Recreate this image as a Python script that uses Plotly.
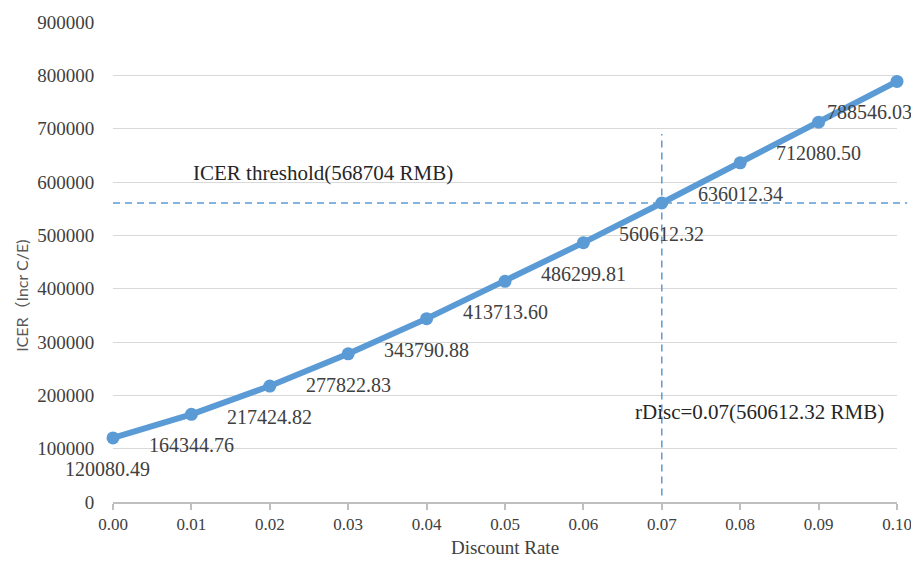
import plotly.graph_objects as go

discount_rate = [0.00, 0.01, 0.02, 0.03, 0.04, 0.05, 0.06, 0.07, 0.08, 0.09, 0.10]
icer = [120080.49, 164344.76, 217424.82, 277822.83, 343790.88, 413713.60,
        486299.81, 560612.32, 636012.34, 712080.50, 788546.03]
x_ticks = [0.00, 0.01, 0.02, 0.03, 0.04, 0.05, 0.06, 0.07, 0.08, 0.09, 0.10]
y_ticks = [0, 100000, 200000, 300000, 400000, 500000, 600000, 700000, 800000, 900000]
threshold_text = "ICER threshold(568704 RMB)"
rdisc_text = "rDisc=0.07(560612.32 RMB)"
rdisc_x = 0.07
rdisc_value = 560612.32

BLUE = "#5B9BD5"
SERIF = "Liberation Serif, Times New Roman, serif"
TXT = "#404040"

fig = go.Figure()
fig.add_trace(go.Scatter(
    x=discount_rate, y=icer, mode="lines+markers",
    line=dict(color=BLUE, width=6),
    marker=dict(color=BLUE, size=13),
    cliponaxis=False, showlegend=False, hoverinfo="x+y"))

annotations = []
n = len(icer)
for i, (xv, yv) in enumerate(zip(discount_rate, icer)):
    xanchor = "center"
    xshift = 0
    if i == 0:
        xshift = -6
    if i == n - 1:
        xanchor = "right"
        xshift = 17
    annotations.append(dict(
        x=xv, y=yv, xref="x", yref="y", text=f"{yv:.2f}", showarrow=False,
        yshift=-31, xshift=xshift, xanchor=xanchor, yanchor="middle",
        font=dict(family=SERIF, size=20, color=TXT)))

annotations.append(dict(x=0.0268, y=617000, xref="x", yref="y", text=threshold_text,
                        showarrow=False, xanchor="center", yanchor="middle",
                        font=dict(family=SERIF, size=21, color="#262626")))
annotations.append(dict(x=0.0825, y=168750, xref="x", yref="y", text=rdisc_text,
                        showarrow=False, xanchor="center", yanchor="middle",
                        font=dict(family=SERIF, size=21, color="#262626")))
annotations.append(dict(x=-0.117, y=0.43, xref="paper", yref="paper",
                        text="ICER（Incr C/E)", textangle=-90, showarrow=False,
                        xanchor="center", yanchor="middle",
                        font=dict(family="Lato, Noto Sans CJK SC, sans-serif", size=16, color="#595959")))

shapes = [
    dict(type="line", xref="paper", yref="y", x0=0, x1=1.013, y0=rdisc_value, y1=rdisc_value,
         line=dict(color=BLUE, width=1.5, dash="7px,5px"), layer="above"),
    dict(type="line", xref="x", yref="y", x0=rdisc_x, x1=rdisc_x, y0=12000, y1=690000,
         line=dict(color=BLUE, width=1.5, dash="7px,5px"), layer="above"),
]

# The page body has an 8px margin, so the figure is sized/offset to compensate.
fig.update_layout(
    width=911, height=555,
    margin=dict(l=105, r=22, t=14, b=61, autoexpand=False),
    paper_bgcolor="white", plot_bgcolor="white",
    annotations=annotations, shapes=shapes,
    xaxis=dict(range=[0, 0.1], tickvals=x_ticks, ticktext=[f"{v:.2f}" for v in x_ticks],
               automargin=False,
               showgrid=False, zeroline=False, showline=True, linecolor="#BFBFBF", linewidth=1.5,
               ticks="outside", ticklen=6, tickcolor="#BFBFBF", tickwidth=1.5,
               tickfont=dict(family=SERIF, size=17, color=TXT),
               title=dict(text="Discount Rate", standoff=8,
                          font=dict(family=SERIF, size=19, color=TXT))),
    yaxis=dict(range=[0, 900000], tickvals=y_ticks, ticktext=[str(v) for v in y_ticks],
               automargin=False,
               showgrid=True, gridcolor="#D9D9D9", gridwidth=1.2, zeroline=False,
               showline=False, ticks="outside", ticklen=14, tickcolor="rgba(0,0,0,0)",
               tickfont=dict(family=SERIF, size=19, color=TXT)),
)

fig.write_html("out.html")
